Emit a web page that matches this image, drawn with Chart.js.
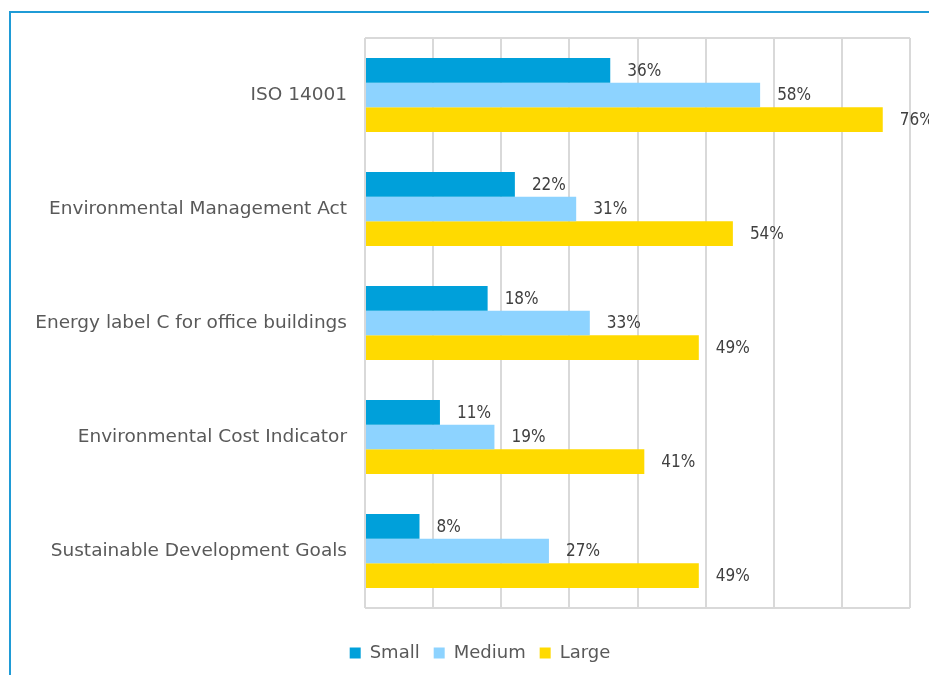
<!DOCTYPE html>
<html>
<head>
<meta charset="utf-8">
<script src="https://cdn.jsdelivr.net/npm/chart.js@4/dist/chart.umd.min.js"></script>
<style>
html,body{margin:0;padding:0;background:#fff;}
#wrap{position:relative;width:929px;height:675px;}
#frame{position:absolute;left:9px;top:11px;width:1000px;height:1000px;border-top:2px solid #1f9bd6;border-left:2px solid #1f9bd6;pointer-events:none;}
</style>
</head>
<body>
<div id="wrap">
<canvas id="c" width="929" height="675"></canvas>
<div id="frame"></div>
</div>
<script>
const categories = ["ISO 14001","Environmental Management Act","Energy label C for office buildings","Environmental Cost Indicator","Sustainable Development Goals"];
const seriesNames = ["Small","Medium","Large"];
const small = [36,22,18,11,8];
const medium = [58,31,33,19,27];
const large = [76,54,49,41,49];
const colors = ["#00A0DA","#8DD3FF","#FFDA00"];
const FONT = "'DejaVu Sans', sans-serif";
const CFONT = "'DejaVu Sans Condensed', 'DejaVu Sans', sans-serif";

const valueLabels = {
  id:'valueLabels',
  afterDatasetsDraw(chart){
    const ctx = chart.ctx;
    ctx.save();
    ctx.font = "17px " + CFONT;
    ctx.fillStyle = "#404040";
    ctx.textAlign = "left";
    ctx.textBaseline = "middle";
    chart.data.datasets.forEach((ds,i)=>{
      const meta = chart.getDatasetMeta(i);
      meta.data.forEach((bar,j)=>{
        ctx.fillText(ds.data[j] + "%", bar.x + 17, bar.y + 1);
      });
    });
    ctx.restore();
  }
};
const areaBorder = {
  id:'areaBorder',
  afterDraw(chart){
    const a = chart.chartArea, ctx = chart.ctx;
    ctx.save();
    ctx.strokeStyle = "#d9d9d9";
    ctx.lineWidth = 2;
    ctx.beginPath();
    ctx.moveTo(a.left, a.top); ctx.lineTo(a.right, a.top);
    ctx.moveTo(a.left, a.bottom); ctx.lineTo(a.right, a.bottom);
    ctx.stroke();
    ctx.restore();
  }
};

const chart = new Chart(document.getElementById('c'), {
  type:'bar',
  data:{
    labels:categories,
    datasets:[
      {label:seriesNames[0], data:small, backgroundColor:colors[0]},
      {label:seriesNames[1], data:medium, backgroundColor:colors[1]},
      {label:seriesNames[2], data:large, backgroundColor:colors[2]}
    ]
  },
  options:{
    indexAxis:'y',
    responsive:false,
    animation:false,
    layout:{padding:{top:38,right:19,left:0,bottom:3}},
    datasets:{bar:{categoryPercentage:0.65,barPercentage:1.0}},
    scales:{
      x:{
        min:0,max:80,
        ticks:{display:false,stepSize:10},
        grid:{color:"#d9d9d9",lineWidth:2,drawTicks:false},
        border:{display:false},
        afterFit(s){ s.height += 22; }
      },
      y:{
        ticks:{color:"#595959",font:{family:FONT,size:18.5},padding:18},
        grid:{display:false,drawTicks:false},
        border:{display:false},
        afterFit(s){ s.width = 365; }
      }
    },
    plugins:{
      legend:{
        position:'bottom',
        labels:{color:"#595959",font:{family:FONT,size:18},boxWidth:11,boxHeight:11,padding:14}
      },
      tooltip:{enabled:false}
    }
  },
  plugins:[valueLabels, areaBorder]
});
// shift legend to the right, as in the reference
const origLegendDraw = chart.legend.draw;
chart.legend.draw = function(){
  const ctx = this.ctx;
  ctx.save();
  ctx.translate(25, 0);
  origLegendDraw.apply(this, arguments);
  ctx.restore();
};
chart.draw();
</script>
</body>
</html>
